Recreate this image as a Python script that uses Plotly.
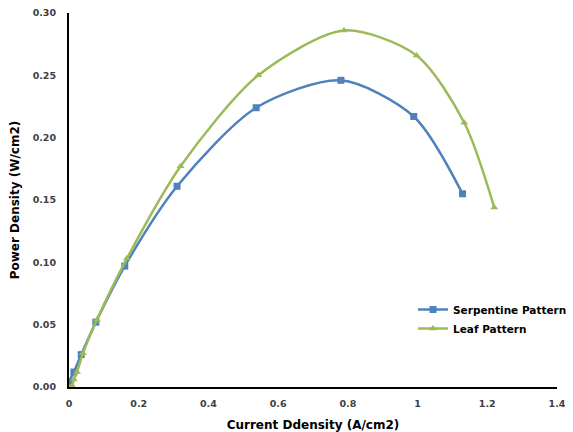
import plotly.graph_objects as go

serp_x = [0.0, 0.0, 0.014, 0.035, 0.077, 0.16, 0.31, 0.537, 0.78, 0.989, 1.129]
serp_y = [0.0, 0.004, 0.012, 0.026, 0.052, 0.097, 0.161, 0.224, 0.246, 0.217, 0.155]

leaf_x = [0.0, 0.009, 0.014, 0.023, 0.04, 0.08, 0.166, 0.32, 0.543, 0.789, 0.997, 1.134, 1.22]
leaf_y = [0.0, 0.001, 0.006, 0.012, 0.027, 0.054, 0.103, 0.177, 0.25, 0.286, 0.266, 0.212, 0.144]

x_ticks = [0, 0.2, 0.4, 0.6, 0.8, 1.0, 1.2, 1.4]
x_tick_text = ["0", "0.2", "0.4", "0.6", "0.8", "1", "1.2", "1.4"]
y_ticks = [0.0, 0.05, 0.10, 0.15, 0.20, 0.25, 0.30]
y_tick_text = ["0.00", "0.05", "0.10", "0.15", "0.20", "0.25", "0.30"]

BLUE = "#4F81BD"
GREEN = "#9BBB59"
FONT = "DejaVu Sans"

fig = go.Figure()
fig.add_trace(go.Scatter(
    x=serp_x, y=serp_y, name="<b>Serpentine Pattern</b>", mode="lines+markers",
    line=dict(color=BLUE, width=2.5, shape="spline", smoothing=0.8),
    marker=dict(symbol="square", size=7, color=BLUE),
))
fig.add_trace(go.Scatter(
    x=leaf_x, y=leaf_y, name="<b>Leaf Pattern</b>", mode="lines+markers",
    line=dict(color=GREEN, width=2.5, shape="spline", smoothing=0.8),
    marker=dict(symbol="triangle-up", size=7, color=GREEN),
))

fig.update_layout(
    width=573, height=432,
    margin=dict(l=69, r=16, t=13, b=45, autoexpand=False),
    paper_bgcolor="white", plot_bgcolor="white",
    font=dict(family=FONT, size=9.5, color="#404040"),
    showlegend=True,
    legend=dict(x=0.705, y=0.246, xanchor="left", yanchor="top",
                font=dict(family=FONT, size=10.5, color="#000000"),
                bgcolor="rgba(0,0,0,0)", tracegroupgap=0, itemwidth=30),
)
fig.update_xaxes(
    range=[0, 1.4], tickvals=x_ticks, ticktext=["<b>%s</b>" % t for t in x_tick_text],
    showgrid=False, zeroline=False, showline=True, linecolor="black", linewidth=2,
    ticks="", ticklen=0, automargin=False, ticklabelstandoff=7,
    title=dict(text="<b>Current Ddensity (A/cm2)</b>", font=dict(family=FONT, size=12, color="#000000"), standoff=14),
)
fig.update_yaxes(
    range=[0, 0.30], tickvals=y_ticks, ticktext=["<b>%s</b>" % t for t in y_tick_text],
    showgrid=False, zeroline=False, showline=True, linecolor="black", linewidth=2,
    ticks="", ticklen=0, automargin=False, ticklabelstandoff=9,
    title=dict(text="<b>Power Density (W/cm2)</b>", font=dict(family=FONT, size=12, color="#000000"), standoff=10),
)

fig.write_html("out.html")
